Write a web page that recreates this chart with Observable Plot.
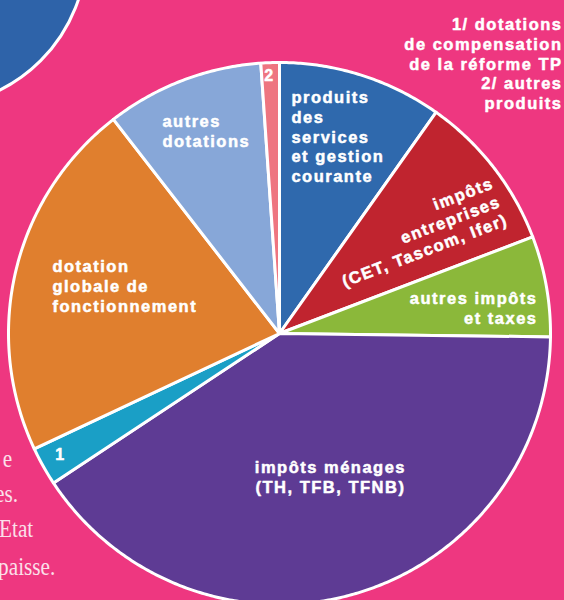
<!DOCTYPE html>
<html><head><meta charset="utf-8">
<script src="https://cdn.jsdelivr.net/npm/d3@7"></script>
<script src="https://cdn.jsdelivr.net/npm/@observablehq/plot@0.6"></script>
<style>
html,body{margin:0;padding:0;background:#EE3780;}
#wrap{position:relative;width:564px;height:600px;overflow:hidden;background:#EE3780;}
#deco{position:absolute;left:-228px;top:-208px;width:316px;height:316px;border-radius:50%;background:#2E63A9;border:3px solid #fff;box-sizing:border-box;}
.serif{position:absolute;font-family:"Liberation Serif",serif;font-size:25px;line-height:25px;color:#FBE0EA;white-space:nowrap;text-align:right;transform:scaleX(0.85);transform-origin:right center;}
#chart{position:absolute;left:0;top:0;}
#chart svg text{letter-spacing:1.5px;}
</style></head>
<body>
<div id="wrap">
  <div id="deco"></div>
  <div class="serif" style="right:552px;top:446px;">e</div>
  <div class="serif" style="right:546px;top:481px;">es.</div>
  <div class="serif" style="right:531px;top:516px;">Etat</div>
  <div class="serif" style="right:509px;top:554px;">paisse.</div>
  <div id="chart"></div>
</div>
<script>
// ---- data ----
const categories = [
  "produits des services et gestion courante",
  "impôts entreprises (CET, Tascom, Ifer)",
  "autres impôts et taxes",
  "impôts ménages (TH, TFB, TFNB)",
  "dotations de compensation de la réforme TP",
  "dotation globale de fonctionnement",
  "autres dotations",
  "autres produits"
];
const shares = [9.8, 9.4, 6.0, 40.5, 2.3, 21.5, 9.4, 1.1];
const sliceLabels = [
  "produits\ndes\nservices\net gestion\ncourante",
  "impôts\nentreprises\n(CET, Tascom, Ifer)",
  "autres impôts\net taxes",
  "impôts ménages\n(TH, TFB, TFNB)",
  "1",
  "dotation\nglobale de\nfonctionnement",
  "autres\ndotations",
  "2"
];
const legendLines = ["1/ dotations", "de compensation", "de la réforme TP", "2/ autres", "produits"];

// ---- styles / layout ----
const colors = ["#2F69AD", "#C0242F", "#8BB83A", "#5E3B94", "#1A9FC6", "#E07F2E", "#87A7D8", "#EE7580"];
const W = 564, H = 600, CX = 279, CY = 333, R = 271;
const labelLayout = [
  {ux: 0.044, uy: 0.727, anchor: "start", rotate: 0},
  {ux: 0.812, uy: 0.492, anchor: "end", rotate: -21},
  {ux: 0.952, uy: 0.094, anchor: "end", rotate: 0},
  {ux: 0.188, uy: -0.528, anchor: "middle", rotate: 0},
  {ux: -0.808, uy: -0.446, anchor: "middle", rotate: 0},
  {ux: -0.838, uy: 0.176, anchor: "start", rotate: 0},
  {ux: -0.432, uy: 0.749, anchor: "start", rotate: 0},
  {ux: -0.037, uy: 0.956, anchor: "middle", rotate: 0}
];

// ---- pie geometry from the shares ----
const total = d3.sum(shares);
const pts = [];
let acc = 0;
shares.forEach((v, i) => {
  const a0 = acc / total * 2 * Math.PI, a1 = (acc + v) / total * 2 * Math.PI;
  acc += v;
  pts.push({cat: categories[i], x: 0, y: 0});
  const n = Math.max(2, Math.ceil((a1 - a0) / (Math.PI / 360)));
  for (let j = 0; j <= n; j++) {
    const a = a0 + (a1 - a0) * j / n;
    pts.push({cat: categories[i], x: Math.sin(a), y: Math.cos(a)});
  }
  pts.push({cat: categories[i], x: 0, y: 0});
});

const font = {fontFamily: "Liberation Sans, Arial, sans-serif", fontWeight: "bold", fill: "white", stroke: "white", strokeWidth: 0.5};

const labelMarks = sliceLabels.map((t, i) => {
  const L = labelLayout[i];
  return Plot.text([t], {
    x: () => L.ux, y: () => L.uy, text: d => d,
    textAnchor: L.anchor, lineAnchor: "middle", rotate: L.rotate,
    fontSize: t.length === 1 ? 16 : 16.5, lineHeight: 1.19, ...font
  });
});

const plot = Plot.plot({
  width: W, height: H, margin: 0,
  style: {background: "transparent", overflow: "visible"},
  x: {axis: null, domain: [-CX / R, (W - CX) / R], range: [0, W]},
  y: {axis: null, domain: [(CY - H) / R, CY / R], range: [H, 0]},
  color: {domain: categories, range: colors},
  marks: [
    Plot.line(pts, {x: "x", y: "y", z: "cat", fill: "cat", stroke: "white", strokeWidth: 3, strokeLinejoin: "round"}),
    ...labelMarks,
    Plot.text([legendLines.join("\n")], {
      frameAnchor: "top-right", textAnchor: "end", lineAnchor: "top",
      dx: -2, dy: 16, fontSize: 16.5, lineHeight: 1.19, ...font
    })
  ]
});
document.getElementById("chart").appendChild(plot);
</script>
</body></html>
